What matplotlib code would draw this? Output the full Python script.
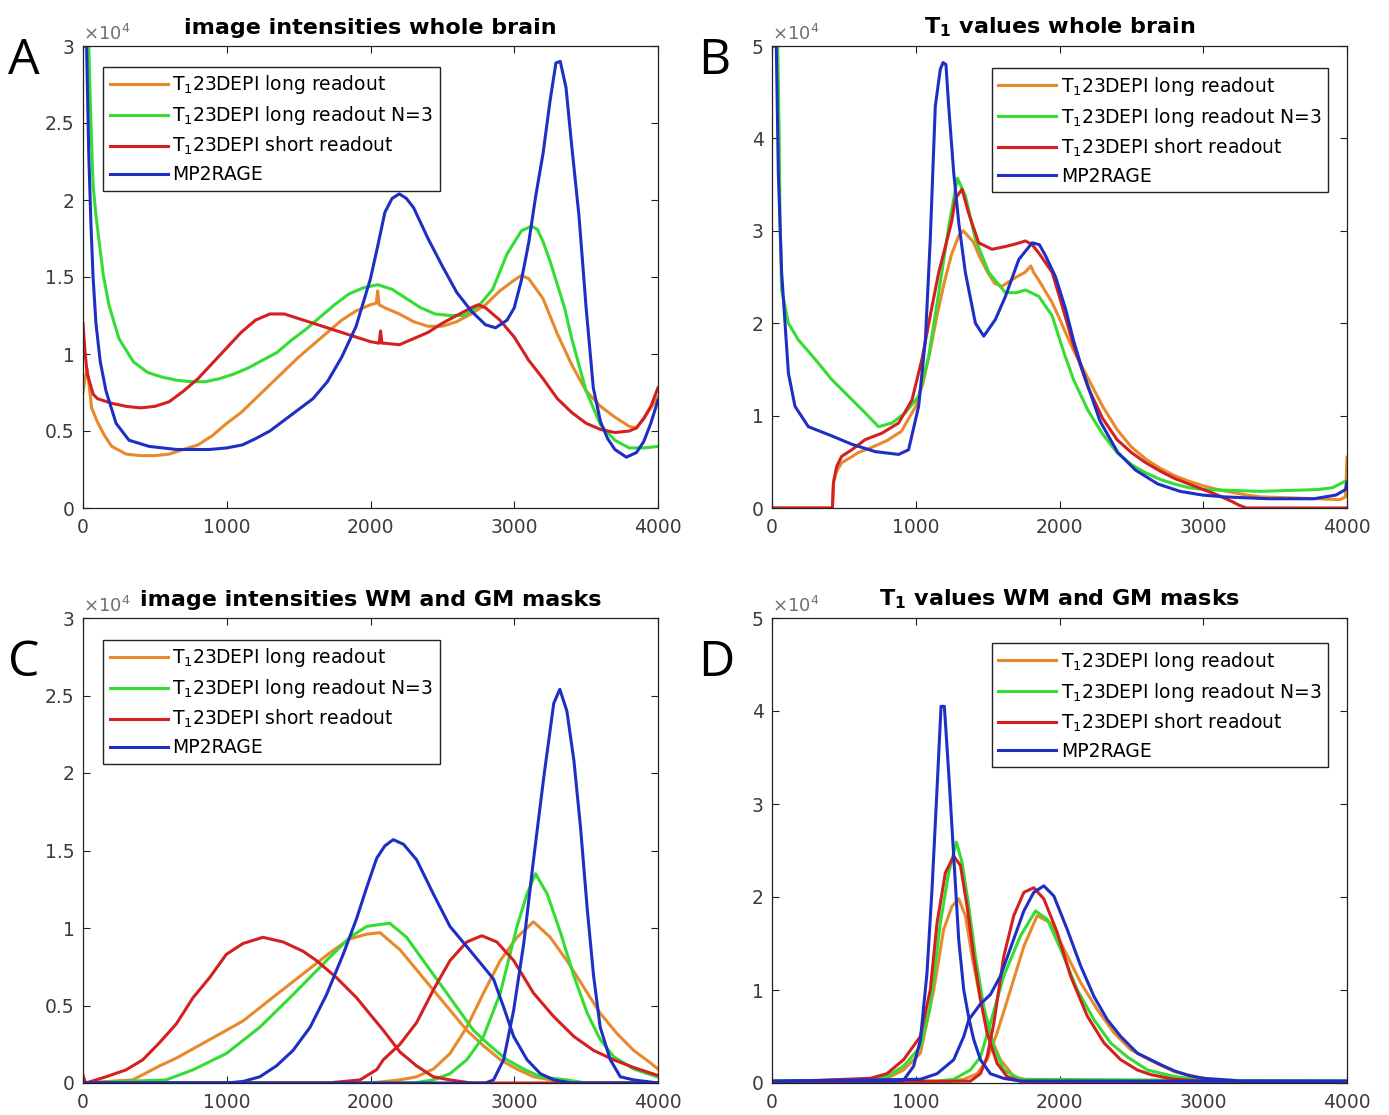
import matplotlib
matplotlib.use("Agg")
import matplotlib.pyplot as plt
from matplotlib.ticker import StrMethodFormatter

# ---------------- data (counts in units of 1e4) ----------------
labels = [r"T$_1$23DEPI long readout", r"T$_1$23DEPI long readout N=3",
          r"T$_1$23DEPI short readout", "MP2RAGE"]
colors = ["#E8892B", "#33DD33", "#D42020", "#1F2FC4"]

# A: image intensities whole brain
a_orange_x = [0, 15, 30, 60, 100, 150, 200, 300, 400, 500, 600, 700, 800, 900, 1000, 1100, 1200, 1300,
              1400, 1500, 1600, 1700, 1800, 1900, 2000, 2040, 2050, 2060, 2100, 2200, 2300, 2400, 2500,
              2600, 2700, 2800, 2900, 3000, 3050, 3100, 3200, 3300, 3400, 3500, 3600, 3700, 3800, 3850,
              3900, 3950, 4000]
a_orange_y = [0.75, 0.85, 0.90, 0.65, 0.56, 0.47, 0.40, 0.35, 0.34, 0.34, 0.35, 0.38, 0.41, 0.47, 0.55,
              0.62, 0.71, 0.80, 0.89, 0.98, 1.06, 1.14, 1.22, 1.28, 1.32, 1.33, 1.41, 1.32, 1.30, 1.26,
              1.21, 1.18, 1.18, 1.21, 1.26, 1.32, 1.41, 1.48, 1.51, 1.49, 1.36, 1.13, 0.93, 0.76, 0.66,
              0.59, 0.53, 0.52, 0.58, 0.65, 0.72]
a_green_x = [0, 40, 55, 70, 90, 140, 180, 250, 350, 450, 550, 650, 750, 850, 950, 1050, 1150, 1250, 1350,
             1450, 1550, 1650, 1750, 1850, 1950, 2050, 2150, 2250, 2350, 2450, 2550, 2650, 2750, 2850,
             2950, 3050, 3120, 3160, 3200, 3250, 3300, 3350, 3400, 3450, 3500, 3600, 3700, 3800, 3900, 4000]
a_green_y = [3.0, 3.0, 2.5, 2.1, 1.9, 1.52, 1.32, 1.10, 0.95, 0.88, 0.85, 0.83, 0.82, 0.82, 0.84, 0.87,
             0.91, 0.96, 1.01, 1.09, 1.16, 1.24, 1.32, 1.39, 1.43, 1.45, 1.42, 1.36, 1.30, 1.26, 1.25, 1.25,
             1.31, 1.42, 1.65, 1.80, 1.83, 1.81, 1.73, 1.60, 1.45, 1.30, 1.10, 0.93, 0.76, 0.54, 0.44, 0.39,
             0.39, 0.40]
a_red_x = [0, 15, 30, 70, 100, 200, 300, 400, 500, 600, 700, 800, 900, 1000, 1100, 1200, 1300, 1400, 1500,
           1600, 1700, 1800, 1900, 2000, 2060, 2070, 2080, 2100, 2200, 2300, 2400, 2500, 2600, 2700, 2750,
           2800, 2900, 3000, 3100, 3200, 3300, 3400, 3500, 3600, 3700, 3800, 3850, 3900, 3950, 4000]
a_red_y = [1.20, 1.00, 0.87, 0.74, 0.71, 0.68, 0.66, 0.65, 0.66, 0.69, 0.76, 0.84, 0.94, 1.04, 1.14, 1.22,
           1.26, 1.26, 1.23, 1.20, 1.17, 1.14, 1.11, 1.08, 1.07, 1.15, 1.07, 1.07, 1.06, 1.10, 1.14, 1.20,
           1.25, 1.30, 1.32, 1.30, 1.22, 1.11, 0.96, 0.84, 0.71, 0.62, 0.55, 0.51, 0.49, 0.50, 0.52, 0.58,
           0.66, 0.78]
a_blue_x = [0, 25, 40, 55, 70, 90, 120, 160, 230, 320, 460, 650, 880, 1000, 1110, 1200, 1300, 1400, 1500,
            1600, 1700, 1800, 1900, 2000, 2050, 2100, 2150, 2200, 2250, 2300, 2400, 2500, 2600, 2700, 2800,
            2870, 2950, 3000, 3050, 3100, 3150, 3200, 3250, 3290, 3320, 3360, 3400, 3450, 3500, 3550, 3600,
            3650, 3700, 3780, 3850, 3900, 3950, 4000]
a_blue_y = [3.0, 3.0, 2.3, 1.85, 1.50, 1.20, 0.95, 0.76, 0.55, 0.44, 0.40, 0.38, 0.38, 0.39, 0.41, 0.45,
            0.50, 0.57, 0.64, 0.71, 0.82, 0.98, 1.18, 1.49, 1.70, 1.92, 2.01, 2.04, 2.01, 1.95, 1.75, 1.57,
            1.40, 1.28, 1.19, 1.17, 1.22, 1.30, 1.48, 1.72, 2.03, 2.30, 2.65, 2.89, 2.90, 2.73, 2.35, 1.90,
            1.30, 0.78, 0.56, 0.45, 0.38, 0.33, 0.36, 0.43, 0.55, 0.70]

# B: T1 values whole brain
b_orange_x = [0, 420, 430, 450, 485, 550, 600, 700, 800, 900, 1000, 1050, 1100, 1150, 1200, 1250, 1300,
              1330, 1360, 1400, 1450, 1500, 1550, 1600, 1650, 1700, 1760, 1800, 1820, 1850, 1900, 1950,
              2000, 2050, 2100, 2200, 2300, 2400, 2500, 2600, 2700, 2800, 2900, 3000, 3100, 3200, 3300,
              3400, 3600, 3800, 3950, 3990, 4000]
b_orange_y = [0, 0, 0.30, 0.40, 0.49, 0.55, 0.60, 0.66, 0.73, 0.83, 1.10, 1.35, 1.70, 2.10, 2.45, 2.75,
              2.95, 3.00, 2.95, 2.88, 2.70, 2.55, 2.43, 2.40, 2.45, 2.50, 2.55, 2.62, 2.55, 2.48, 2.35, 2.22,
              2.05, 1.87, 1.70, 1.40, 1.10, 0.85, 0.66, 0.53, 0.43, 0.35, 0.29, 0.24, 0.20, 0.17, 0.14,
              0.12, 0.11, 0.10, 0.09, 0.12, 0.55]
b_green_x = [0, 40, 50, 56, 67, 114, 183, 300, 416, 532, 648, 741, 834, 927, 1020, 1090, 1160, 1230, 1290,
             1345, 1415, 1508, 1624, 1700, 1763, 1856, 1949, 2031, 2100, 2200, 2300, 2400, 2500, 2600,
             2700, 2800, 2900, 3000, 3200, 3400, 3600, 3800, 3900, 4000]
b_green_y = [5.0, 5.0, 4.0, 3.1, 2.36, 2.0, 1.82, 1.61, 1.39, 1.21, 1.03, 0.88, 0.92, 1.03, 1.21, 1.64,
             2.33, 3.05, 3.57, 3.38, 2.91, 2.55, 2.33, 2.33, 2.36, 2.29, 2.08, 1.68, 1.38, 1.05, 0.80, 0.60,
             0.47, 0.38, 0.31, 0.26, 0.22, 0.20, 0.19, 0.18, 0.19, 0.20, 0.22, 0.30]
b_red_x = [0, 420, 427, 450, 485, 555, 648, 765, 881, 974, 1043, 1113, 1160, 1206, 1250, 1276, 1322, 1368,
           1438, 1531, 1624, 1700, 1763, 1810, 1856, 1949, 2020, 2100, 2200, 2300, 2400, 2500, 2600, 2700,
           2800, 2900, 3000, 3100, 3200, 3250, 3300, 4000]
b_red_y = [0, 0, 0.27, 0.45, 0.56, 0.63, 0.74, 0.81, 0.92, 1.17, 1.61, 2.18, 2.55, 2.83, 3.10, 3.35, 3.45,
           3.19, 2.87, 2.80, 2.83, 2.86, 2.89, 2.85, 2.76, 2.55, 2.18, 1.75, 1.30, 0.97, 0.74, 0.60, 0.49,
           0.40, 0.32, 0.26, 0.20, 0.14, 0.07, 0.03, 0.0, 0.0]
b_blue_x = [0, 30, 44, 67, 114, 160, 253, 416, 555, 718, 881, 950, 1020, 1067, 1101, 1136, 1171, 1190,
            1210, 1229, 1264, 1299, 1345, 1415, 1473, 1554, 1624, 1717, 1810, 1860, 1903, 1973, 2043, 2100,
            2158, 2282, 2406, 2529, 2684, 2839, 2994, 3149, 3458, 3768, 3923, 3990, 4000]
b_blue_y = [5.0, 5.0, 3.63, 2.55, 1.46, 1.10, 0.88, 0.78, 0.69, 0.61, 0.58, 0.63, 1.10, 1.82, 2.91, 4.35,
            4.75, 4.82, 4.80, 4.35, 3.63, 3.09, 2.55, 2.00, 1.86, 2.04, 2.29, 2.69, 2.87, 2.85, 2.73, 2.50,
            2.15, 1.80, 1.50, 0.94, 0.60, 0.41, 0.26, 0.18, 0.14, 0.12, 0.10, 0.10, 0.14, 0.20, 0.28]

# C: image intensities WM and GM masks (two peaks per method)
c_orange_gm_x = [0, 346, 532, 648, 881, 1113, 1345, 1580, 1717, 1856, 1973, 2066, 2205, 2321, 2437, 2553,
                 2670, 2786, 2903, 3019, 3134, 3250, 3400, 4000]
c_orange_gm_y = [0, 0.02, 0.11, 0.16, 0.28, 0.40, 0.57, 0.74, 0.84, 0.93, 0.96, 0.97, 0.86, 0.73, 0.60,
                 0.47, 0.34, 0.24, 0.15, 0.09, 0.04, 0.02, 0, 0]
c_orange_wm_x = [0, 2000, 2205, 2321, 2437, 2553, 2670, 2786, 2903, 3019, 3134, 3250, 3366, 3482, 3598,
                 3714, 3831, 3947, 4000]
c_orange_wm_y = [0, 0, 0.02, 0.04, 0.09, 0.19, 0.36, 0.58, 0.79, 0.94, 1.04, 0.94, 0.79, 0.62, 0.45, 0.32,
                 0.21, 0.13, 0.09]
c_green_gm_x = [0, 578, 765, 997, 1230, 1461, 1694, 1856, 1973, 2043, 2135, 2251, 2367, 2484, 2600, 2716,
                2832, 2949, 3066, 3182, 3366, 3500, 4000]
c_green_gm_y = [0, 0.02, 0.085, 0.19, 0.36, 0.57, 0.79, 0.94, 1.01, 1.02, 1.03, 0.94, 0.79, 0.64, 0.49,
                0.34, 0.24, 0.15, 0.09, 0.04, 0.02, 0, 0]
c_green_wm_x = [0, 2300, 2437, 2553, 2670, 2786, 2903, 3019, 3089, 3148, 3229, 3322, 3415, 3508, 3598,
                3691, 3831, 3994, 4000]
c_green_wm_y = [0, 0, 0.02, 0.06, 0.15, 0.30, 0.58, 1.01, 1.22, 1.35, 1.22, 0.97, 0.69, 0.45, 0.28, 0.17,
                0.09, 0.04, 0.04]
c_red_gm_x = [0, 10, 20, 160, 300, 416, 532, 648, 765, 881, 997, 1113, 1252, 1392, 1531, 1624, 1763, 1903,
              2000, 2089, 2205, 2321, 2437, 2553, 2700, 4000]
c_red_gm_y = [0.05, 0.02, 0.0, 0.04, 0.085, 0.15, 0.26, 0.38, 0.55, 0.68, 0.83, 0.90, 0.94, 0.91, 0.85,
              0.79, 0.68, 0.55, 0.44, 0.34, 0.20, 0.11, 0.04, 0.02, 0.0, 0.0]
c_red_wm_x = [0, 1700, 1927, 2043, 2089, 2205, 2321, 2437, 2553, 2670, 2774, 2879, 2996, 3134, 3273, 3415,
              3552, 3691, 3831, 3994, 4000]
c_red_wm_y = [0, 0, 0.02, 0.086, 0.15, 0.25, 0.39, 0.60, 0.79, 0.91, 0.95, 0.91, 0.79, 0.58, 0.43, 0.30,
              0.21, 0.15, 0.10, 0.05, 0.05]
c_blue_gm_x = [0, 1000, 1113, 1230, 1345, 1461, 1580, 1694, 1810, 1903, 1973, 2043, 2100, 2158, 2230, 2321,
               2437, 2553, 2670, 2786, 2856, 2926, 2996, 3089, 3182, 3275, 3400, 4000]
c_blue_gm_y = [0, 0, 0.01, 0.04, 0.11, 0.21, 0.36, 0.57, 0.83, 1.06, 1.26, 1.45, 1.53, 1.57, 1.54, 1.44,
               1.22, 1.01, 0.88, 0.75, 0.67, 0.49, 0.30, 0.15, 0.06, 0.02, 0, 0]
c_blue_wm_x = [0, 2800, 2856, 2926, 2996, 3066, 3134, 3205, 3275, 3317, 3366, 3415, 3461, 3508, 3552, 3598,
               3668, 3738, 3831, 4000]
c_blue_wm_y = [0, 0, 0.02, 0.15, 0.47, 0.90, 1.44, 1.97, 2.45, 2.54, 2.40, 2.08, 1.65, 1.12, 0.69, 0.36,
               0.15, 0.04, 0.02, 0]

# D: T1 values WM and GM masks
d_orange_wm_x = [0, 800, 915, 1032, 1125, 1194, 1252, 1299, 1345, 1392, 1450, 1519, 1589, 1682, 1775, 4000]
d_orange_wm_y = [0.01, 0.05, 0.14, 0.32, 1.00, 1.65, 1.90, 1.98, 1.80, 1.36, 0.90, 0.50, 0.25, 0.07, 0.03,
                 0.01]
d_orange_gm_x = [0, 1250, 1334, 1427, 1496, 1566, 1659, 1752, 1845, 1938, 2031, 2147, 2263, 2379, 2495,
                 2623, 2800, 3000, 3200, 4000]
d_orange_gm_y = [0.01, 0.02, 0.04, 0.10, 0.25, 0.54, 1.00, 1.47, 1.80, 1.72, 1.44, 1.08, 0.79, 0.54, 0.36,
                 0.25, 0.12, 0.05, 0.02, 0.01]
d_green_wm_x = [0, 680, 799, 915, 1032, 1101, 1171, 1229, 1283, 1322, 1369, 1415, 1473, 1543, 1612, 1728,
                4000]
d_green_wm_y = [0.02, 0.03, 0.07, 0.18, 0.39, 0.82, 1.72, 2.26, 2.59, 2.37, 1.90, 1.36, 0.82, 0.39, 0.14,
                0.04, 0.02]
d_green_gm_x = [0, 1150, 1264, 1380, 1450, 1519, 1612, 1728, 1833, 1915, 2008, 2124, 2240, 2356, 2472,
                2612, 2800, 3000, 3200, 4000]
d_green_gm_y = [0.02, 0.02, 0.04, 0.14, 0.28, 0.64, 1.15, 1.58, 1.85, 1.76, 1.44, 1.00, 0.68, 0.43, 0.28,
                0.14, 0.07, 0.03, 0.02, 0.02]
d_red_wm_x = [0, 683, 799, 915, 1032, 1101, 1148, 1206, 1264, 1311, 1357, 1403, 1450, 1496, 1566, 1635,
              1728, 4000]
d_red_wm_y = [0.01, 0.05, 0.10, 0.25, 0.50, 1.00, 1.72, 2.26, 2.44, 2.34, 1.90, 1.36, 0.90, 0.54, 0.21,
              0.07, 0.02, 0.01]
d_red_gm_x = [0, 1380, 1450, 1496, 1543, 1612, 1682, 1752, 1821, 1891, 1984, 2077, 2193, 2310, 2426, 2542,
              2635, 2800, 3000, 3200, 4000]
d_red_gm_y = [0.01, 0.02, 0.10, 0.28, 0.64, 1.36, 1.80, 2.05, 2.10, 1.98, 1.62, 1.15, 0.72, 0.43, 0.25,
              0.14, 0.09, 0.04, 0.02, 0.01, 0.01]
d_blue_wm_x = [0, 850, 915, 985, 1032, 1078, 1113, 1148, 1176, 1199, 1229, 1264, 1299, 1334, 1369, 1403,
               1450, 1519, 1612, 1728, 4000]
d_blue_wm_y = [0.02, 0.02, 0.03, 0.18, 0.46, 1.18, 2.08, 3.16, 4.05, 4.05, 3.34, 2.44, 1.54, 1.00, 0.70,
               0.47, 0.25, 0.10, 0.05, 0.02, 0.02]
d_blue_gm_x = [0, 1032, 1148, 1264, 1334, 1369, 1450, 1519, 1589, 1659, 1752, 1821, 1891, 1961, 2054, 2147,
               2240, 2333, 2426, 2542, 2635, 2700, 2800, 2900, 3000, 3100, 3200, 3250, 4000]
d_blue_gm_y = [0.02, 0.04, 0.10, 0.25, 0.50, 0.68, 0.85, 0.95, 1.15, 1.45, 1.85, 2.05, 2.12, 2.01, 1.65,
               1.26, 0.93, 0.68, 0.50, 0.32, 0.25, 0.20, 0.13, 0.08, 0.05, 0.04, 0.03, 0.02, 0.02]

W, H = 1389, 1115
fig = plt.figure(figsize=(W / 100, H / 100), dpi=100)


def make_axes(left, top, right, bottom, ymax, title, letter, letter_x, letter_y):
    ax = fig.add_axes([left / W, 1 - bottom / H, (right - left) / W, (bottom - top) / H])
    ax.set_xlim(0, 4000)
    ax.set_ylim(0, ymax)
    ax.set_xticks(range(0, 4001, 1000))
    if ymax == 3:
        ax.set_yticks([0, 0.5, 1, 1.5, 2, 2.5, 3])
    else:
        ax.set_yticks(range(0, ymax + 1))
    ax.yaxis.set_major_formatter(StrMethodFormatter("{x:g}"))
    ax.tick_params(direction="in", length=5, width=0.8, top=True, right=True,
                   labelsize=13.5, labelcolor="#3c3c3c", color="#222222")
    ax.tick_params(axis="x", pad=7)
    ax.tick_params(axis="y", pad=6)
    for s in ax.spines.values():
        s.set_linewidth(0.9)
        s.set_color("#222222")
    ax.set_title(title, pad=9, fontsize=16, fontweight="bold")
    ax.text(0, 1.004, r"$\times10^4$", transform=ax.transAxes, ha="left", va="bottom",
            fontsize=13, color="#707070")
    fig.text(letter_x / W, 1 - letter_y / H, letter, fontsize=36, family="Open Sans",
             ha="left", va="baseline")
    return ax


def add_legend(ax, loc, anchor):
    leg = ax.legend(loc=loc, bbox_to_anchor=anchor, borderaxespad=0, fontsize=13.5,
                    handlelength=3.1, handletextpad=0.25, labelspacing=0.42, borderpad=0.35,
                    fancybox=False, framealpha=1, edgecolor="#222222")
    leg.get_frame().set_linewidth(1.0)


lw = 2.2

ax_a = make_axes(83, 46, 658, 508, 3, "image intensities whole brain", "A", 8, 74)
for xs, ys, c, lab in zip([a_orange_x, a_green_x, a_red_x, a_blue_x],
                          [a_orange_y, a_green_y, a_red_y, a_blue_y], colors, labels):
    ax_a.plot(xs, ys, color=c, lw=lw, label=lab)
add_legend(ax_a, "upper left", (0.035, 0.955))

ax_b = make_axes(772, 46, 1347, 508, 5, r"T$_\mathbf{1}$ values whole brain", "B", 698, 74)
for xs, ys, c, lab in zip([b_orange_x, b_green_x, b_red_x, b_blue_x],
                          [b_orange_y, b_green_y, b_red_y, b_blue_y], colors, labels):
    ax_b.plot(xs, ys, color=c, lw=lw, label=lab)
add_legend(ax_b, "upper right", (0.967, 0.952))

ax_c = make_axes(83, 618, 658, 1083, 3, "image intensities WM and GM masks", "C", 8, 676)
c_series = [(c_orange_gm_x, c_orange_gm_y, c_orange_wm_x, c_orange_wm_y),
            (c_green_gm_x, c_green_gm_y, c_green_wm_x, c_green_wm_y),
            (c_red_gm_x, c_red_gm_y, c_red_wm_x, c_red_wm_y),
            (c_blue_gm_x, c_blue_gm_y, c_blue_wm_x, c_blue_wm_y)]
for (x1, y1, x2, y2), c, lab in zip(c_series, colors, labels):
    ax_c.plot(x1, y1, color=c, lw=lw, label=lab)
    ax_c.plot(x2, y2, color=c, lw=lw)
add_legend(ax_c, "upper left", (0.035, 0.953))

ax_d = make_axes(772, 618, 1347, 1083, 5, r"T$_\mathbf{1}$ values WM and GM masks", "D", 698, 676)
d_series = [(d_orange_wm_x, d_orange_wm_y, d_orange_gm_x, d_orange_gm_y),
            (d_green_wm_x, d_green_wm_y, d_green_gm_x, d_green_gm_y),
            (d_red_wm_x, d_red_wm_y, d_red_gm_x, d_red_gm_y),
            (d_blue_wm_x, d_blue_wm_y, d_blue_gm_x, d_blue_gm_y)]
for (x1, y1, x2, y2), c, lab in zip(d_series, colors, labels):
    ax_d.plot(x1, y1, color=c, lw=lw, label=lab)
    ax_d.plot(x2, y2, color=c, lw=lw)
add_legend(ax_d, "upper right", (0.967, 0.946))

fig.savefig("out.png", dpi=100)
